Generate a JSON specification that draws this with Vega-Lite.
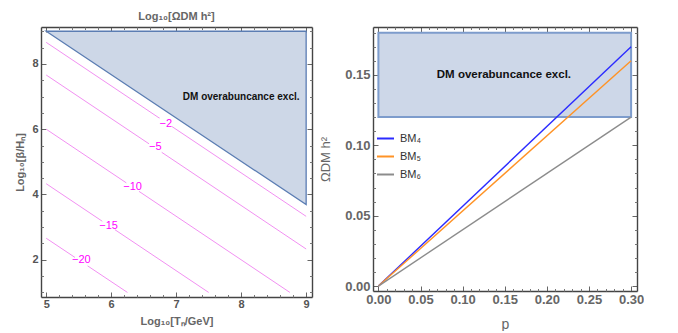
{
  "$schema": "https://vega.github.io/schema/vega-lite/v6.json",
  "padding": {"left": 14, "top": 10, "right": 0, "bottom": 0},
  "spacing": 6,
  "config": {"view": {"stroke": null}, "font": "Liberation Sans"},
  "datasets": {
    "region": [{"x": 5, "lo": 9, "hi": 9}, {"x": 9, "lo": 3.69, "hi": 9}],
    "contours": [
      {"c": "-2", "x": 5, "y": 8.66}, {"c": "-2", "x": 9, "y": 3.33},
      {"c": "-5", "x": 5, "y": 7.66}, {"c": "-5", "x": 9, "y": 2.33},
      {"c": "-10", "x": 5, "y": 6.0}, {"c": "-10", "x": 8.75, "y": 1.0},
      {"c": "-15", "x": 5, "y": 4.33}, {"c": "-15", "x": 7.5, "y": 1.0},
      {"c": "-20", "x": 5, "y": 2.66}, {"c": "-20", "x": 6.25, "y": 1.0}
    ],
    "labels": [
      {"t": "−2", "x": 6.84, "y": 6.15},
      {"t": "−5", "x": 6.68, "y": 5.45},
      {"t": "−10", "x": 6.33, "y": 4.22},
      {"t": "−15", "x": 5.96, "y": 3.05},
      {"t": "−20", "x": 5.54, "y": 1.98}
    ],
    "box": [{"x": 0, "x2": 0.3, "y": 0.12, "y2": 0.18}],
    "bm": [
      {"s": "BM₄", "p": 0, "o": 0}, {"s": "BM₄", "p": 0.3, "o": 0.17},
      {"s": "BM₅", "p": 0, "o": 0}, {"s": "BM₅", "p": 0.3, "o": 0.16},
      {"s": "BM₆", "p": 0, "o": 0}, {"s": "BM₆", "p": 0.3, "o": 0.12}
    ]
  },
  "hconcat": [
    {
      "width": 271,
      "height": 270,
      "title": {"text": "Log₁₀[ΩDM h²]", "fontSize": 11, "fontWeight": "bold", "color": "#666", "offset": 5, "anchor": "middle"},
      "layer": [
        {
          "data": {"name": "region"},
          "mark": {"type": "area", "fill": "#cdd7e7", "fillOpacity": 1, "stroke": "#5b7db3", "strokeWidth": 1.3},
          "encoding": {
            "x": {"field": "x", "type": "quantitative", "scale": {"domain": [4.92, 9.09], "nice": false, "zero": false},
              "axis": {"orient": "bottom", "values": [5, 6, 7, 8, 9], "format": "d", "tickSize": -5,
                "labelOverlap": false, "labelBound": false, "labelFlush": false,
                "grid": false, "domainColor": "#444", "domainWidth": 1.4, "tickColor": "#666",
                "labelColor": "#555", "labelFontSize": 11, "labelFontWeight": "bold", "labelPadding": 6,
                "title": "Log₁₀[Tₙ/GeV]", "titleColor": "#666", "titleFontSize": 11, "titleFontWeight": "bold", "titlePadding": 6}},
            "y": {"field": "lo", "type": "quantitative", "scale": {"domain": [0.86, 9.13], "nice": false, "zero": false},
              "axis": {"orient": "left", "values": [2, 4, 6, 8], "format": "d", "tickSize": -5,
                "labelOverlap": false, "labelBound": false, "labelFlush": false,
                "grid": false, "domainColor": "#444", "domainWidth": 1.4, "tickColor": "#666",
                "labelColor": "#555", "labelFontSize": 11, "labelFontWeight": "bold", "labelPadding": 8,
                "title": "Log₁₀[β/Hₙ]", "titleColor": "#666", "titleFontSize": 11, "titleFontWeight": "bold", "titlePadding": 6}},
            "y2": {"field": "hi"}
          }
        },
        {
          "data": {"name": "contours"},
          "mark": {"type": "line", "color": "#f290f2", "strokeWidth": 1},
          "encoding": {
            "x": {"field": "x", "type": "quantitative",
              "axis": {"orient": "top", "values": [5, 6, 7, 8, 9], "tickSize": -5,
                "labels": false, "title": null, "grid": false, "domainColor": "#444", "domainWidth": 1.4, "tickColor": "#666"}},
            "y": {"field": "y", "type": "quantitative",
              "axis": {"orient": "right", "values": [2, 4, 6, 8], "tickSize": -5,
                "labels": false, "title": null, "grid": false, "domainColor": "#444", "domainWidth": 1.4, "tickColor": "#666"}},
            "detail": {"field": "c"}
          }
        },
        {
          "data": {"name": "labels"},
          "mark": {"type": "point", "shape": "square", "filled": true, "color": "white", "opacity": 1, "size": 160},
          "encoding": {
            "x": {"field": "x", "type": "quantitative",
              "axis": {"orient": "bottom", "values": [5.2,5.4,5.6,5.8,6.2,6.4,6.6,6.8,7.2,7.4,7.6,7.8,8.2,8.4,8.6,8.8], "tickSize": -2.5,
                "labels": false, "title": null, "grid": false, "domain": false, "tickColor": "#777", "offset": 0}},
            "y": {"field": "y", "type": "quantitative",
              "axis": {"orient": "left", "values": [1,1.5,2.5,3,3.5,4.5,5,5.5,6.5,7,7.5,8.5,9], "tickSize": -2.5,
                "labels": false, "title": null, "grid": false, "domain": false, "tickColor": "#777", "offset": 0}}
          }
        },
        {
          "data": {"name": "labels"},
          "mark": {"type": "text", "color": "#f0f", "fontSize": 11},
          "encoding": {
            "x": {"field": "x", "type": "quantitative",
              "axis": {"orient": "top", "values": [5.2,5.4,5.6,5.8,6.2,6.4,6.6,6.8,7.2,7.4,7.6,7.8,8.2,8.4,8.6,8.8], "tickSize": -2.5,
                "labels": false, "title": null, "grid": false, "domain": false, "tickColor": "#777", "offset": 0}},
            "y": {"field": "y", "type": "quantitative",
              "axis": {"orient": "right", "values": [1,1.5,2.5,3,3.5,4.5,5,5.5,6.5,7,7.5,8.5,9], "tickSize": -2.5,
                "labels": false, "title": null, "grid": false, "domain": false, "tickColor": "#777", "offset": 0}},
            "text": {"field": "t"}
          }
        },
        {
          "data": {"values": [{"x": 8.0, "y": 6.98, "t": "DM overabuncance excl."}]},
          "mark": {"type": "text", "color": "#111", "fontSize": 10, "fontWeight": "bold"},
          "encoding": {
            "x": {"field": "x", "type": "quantitative", "axis": null},
            "y": {"field": "y", "type": "quantitative", "axis": null},
            "text": {"field": "t"}
          }
        }
      ],
      "resolve": {"axis": {"x": "independent", "y": "independent"}}
    },
    {
      "width": 264,
      "height": 264,
      "layer": [
        {
          "data": {"name": "box"},
          "mark": {"type": "rect", "fill": "#cdd7e8", "stroke": "#7d9ccc", "strokeWidth": 2},
          "encoding": {
            "x": {"field": "x", "type": "quantitative", "scale": {"domain": [-0.0064, 0.307], "nice": false, "zero": false},
              "axis": {"orient": "bottom", "values": [0, 0.05, 0.1, 0.15, 0.2, 0.25, 0.3], "format": ".2f", "tickSize": -5,
                "labelOverlap": false, "labelBound": false, "labelFlush": false,
                "grid": false, "domainColor": "#444", "domainWidth": 1.4, "tickColor": "#666",
                "labelColor": "#666", "labelFontSize": 13, "labelFontWeight": "bold", "labelPadding": 7,
                "title": "p", "titleColor": "#666", "titleFontSize": 14, "titleFontWeight": "normal", "titlePadding": 11}},
            "x2": {"field": "x2"},
            "y": {"field": "y", "type": "quantitative", "scale": {"domain": [-0.0035, 0.184], "nice": false, "zero": false},
              "axis": {"orient": "left", "values": [0, 0.05, 0.1, 0.15], "format": ".2f", "tickSize": -5,
                "labelOverlap": false, "labelBound": false, "labelFlush": false,
                "grid": false, "domainColor": "#444", "domainWidth": 1.4, "tickColor": "#666",
                "labelColor": "#666", "labelFontSize": 13, "labelFontWeight": "bold", "labelPadding": 8,
                "title": "ΩDM h²", "titleColor": "#666", "titleFontSize": 13, "titleFontWeight": "normal",
                "titleX": -41, "titleY": 132}},
            "y2": {"field": "y2"}
          }
        },
        {
          "data": {"name": "bm"},
          "mark": {"type": "line", "strokeWidth": 1.4},
          "encoding": {
            "x": {"field": "p", "type": "quantitative",
              "axis": {"orient": "top", "values": [0, 0.05, 0.1, 0.15, 0.2, 0.25, 0.3], "tickSize": -5,
                "labels": false, "title": null, "grid": false, "domainColor": "#444", "domainWidth": 1.4, "tickColor": "#666"}},
            "y": {"field": "o", "type": "quantitative",
              "axis": {"orient": "right", "values": [0, 0.05, 0.1, 0.15], "tickSize": -5,
                "labels": false, "title": null, "grid": false, "domainColor": "#444", "domainWidth": 1.4, "tickColor": "#666"}},
            "color": {"field": "s", "type": "nominal",
              "scale": {"domain": ["BM₄", "BM₅", "BM₆"], "range": ["#2b2bff", "#ff9326", "#8c8c8c"]},
              "legend": {"orient": "none", "legendX": 335, "legendY": 102, "title": null, "symbolType": "stroke",
                "symbolStrokeWidth": 2, "symbolSize": 289, "labelFontSize": 11, "labelColor": "#333", "rowPadding": 3, "labelOffset": 5}}
          }
        },
        {
          "data": {"values": [{"x": 0.149, "y": 0.15, "t": "DM overabuncance excl."}]},
          "mark": {"type": "text", "color": "#111", "fontSize": 11.5, "fontWeight": "bold"},
          "encoding": {
            "x": {"field": "x", "type": "quantitative",
              "axis": {"orient": "bottom", "values": [0.01,0.02,0.03,0.04,0.06,0.07,0.08,0.09,0.11,0.12,0.13,0.14,0.16,0.17,0.18,0.19,0.21,0.22,0.23,0.24,0.26,0.27,0.28,0.29], "tickSize": -2.5,
                "labels": false, "title": null, "grid": false, "domain": false, "tickColor": "#777", "offset": 0}},
            "y": {"field": "y", "type": "quantitative",
              "axis": {"orient": "left", "values": [0.01,0.02,0.03,0.04,0.06,0.07,0.08,0.09,0.11,0.12,0.13,0.14,0.16,0.17,0.18], "tickSize": -2.5,
                "labels": false, "title": null, "grid": false, "domain": false, "tickColor": "#777", "offset": 0}},
            "text": {"field": "t"}
          }
        },
        {
          "data": {"name": "box"},
          "mark": {"type": "rect", "fill": null, "stroke": null, "opacity": 0},
          "encoding": {
            "x": {"field": "x", "type": "quantitative",
              "axis": {"orient": "top", "values": [0.01,0.02,0.03,0.04,0.06,0.07,0.08,0.09,0.11,0.12,0.13,0.14,0.16,0.17,0.18,0.19,0.21,0.22,0.23,0.24,0.26,0.27,0.28,0.29], "tickSize": -2.5,
                "labels": false, "title": null, "grid": false, "domain": false, "tickColor": "#777", "offset": 0}},
            "x2": {"field": "x2"},
            "y": {"field": "y", "type": "quantitative",
              "axis": {"orient": "right", "values": [0.01,0.02,0.03,0.04,0.06,0.07,0.08,0.09,0.11,0.12,0.13,0.14,0.16,0.17,0.18], "tickSize": -2.5,
                "labels": false, "title": null, "grid": false, "domain": false, "tickColor": "#777", "offset": 0}},
            "y2": {"field": "y2"}
          }
        }
      ],
      "resolve": {"axis": {"x": "independent", "y": "independent"}}
    }
  ]
}
